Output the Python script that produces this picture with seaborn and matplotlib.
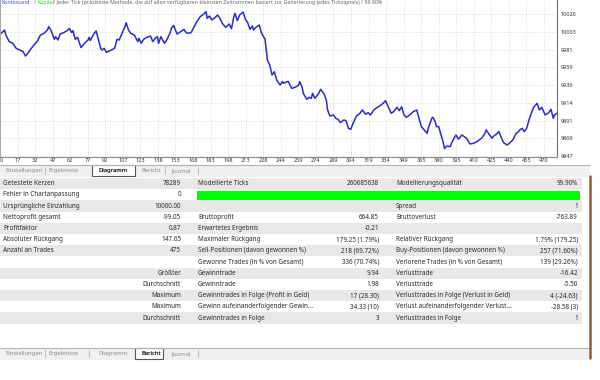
import numpy as np
import pandas as pd
import matplotlib
matplotlib.use("Agg")
import matplotlib.pyplot as plt
import seaborn as sns
from matplotlib.patches import Rectangle

# Balance curve (trade number, account balance)
trade_no = [1, 4, 5, 8, 11, 14, 17, 20, 22, 24, 27, 30, 32, 35, 38, 41, 42, 44, 45, 47,
            48, 50, 52, 55, 58, 60, 62, 63, 65, 67, 70, 73, 76, 77, 78, 81, 83, 84, 87, 88,
            90, 92, 96, 99, 101, 103, 106, 108, 109, 111, 113, 116, 119, 120, 122, 124, 127, 130, 132, 134,
            136, 137, 139, 142, 144, 147, 148, 150, 153, 156, 159, 160, 162, 165, 167, 170, 173, 176, 178, 179,
            181, 183, 186, 188, 190, 192, 195, 198, 200, 202, 203, 205, 207, 210, 212, 214, 216, 218, 219, 221,
            224, 226, 229, 230, 231, 233, 235, 237, 239, 242,
            244, 245, 248, 249, 252, 255, 258, 259, 261, 262, 265, 267, 269, 270, 272, 275, 277, 280, 282, 283,
            285, 288, 290, 292, 294, 297, 299, 301, 303, 305, 308, 311, 313, 316, 318, 320, 323, 326, 328, 331,
            333, 336, 338, 340, 343, 345, 347, 349, 351, 354, 357, 360, 362, 364, 366, 369, 370, 373, 374, 376,
            377, 379, 381, 383, 384, 386, 389, 390, 393, 394, 396, 399, 401, 403, 406, 409, 412, 414, 416, 419,
            420, 423, 425, 426, 429, 431, 433, 435, 438, 440, 443, 446, 448, 449, 451, 453, 455, 457, 459, 461,
            464, 466, 468, 471, 474, 476, 478, 479, 481]
balance = [10002.2, 10006.4, 10000.1, 9991.7, 9989.6, 9983.2, 9981.1, 9979.0, 9973.5, 9976.9,
           9983.2, 9988.7, 9991.7, 10000.1, 10002.2, 10006.4, 10010.7, 10006.4, 10002.2, 9994.6,
           9998.0, 9993.8, 10001.4, 10003.1, 10005.6, 10008.5, 10003.1, 10005.6, 9994.6, 9997.2,
           9984.1, 9989.6, 9993.8, 9997.2, 9993.0, 10001.4, 10005.2, 10000.1, 9983.2, 9981.1,
           9983.2, 9978.2, 9981.1, 9983.2, 9994.6, 9993.8, 10004.3, 10010.7, 10015.7, 10006.4,
           10002.2, 10000.1, 9991.7, 9995.9, 9989.6, 9994.6, 9997.2, 9998.8, 9991.7, 9995.9,
           9998.0, 9989.6, 9998.0, 9989.6, 9993.8, 10003.1, 10008.5, 10012.3, 10001.4, 10004.3,
           10007.3, 10004.3, 10002.2, 10003.1, 10008.5, 10017.0, 10023.3, 10026.7, 10029.6, 10021.2,
           10024.1, 10019.1, 10022.5, 10025.4, 10021.2, 10014.9, 10009.8, 10014.0, 10008.1, 10023.3,
           10027.5, 10018.3, 10025.4, 10029.2, 10020.0, 10015.7, 10007.3, 10011.5, 10006.4, 10009.8,
           10012.8, 10002.2, 9994.6, 9981.1, 9968.5, 9962.1, 9949.5, 9953.7, 9943.2, 9936.8,
           9941.1, 9939.0, 9941.1, 9941.1, 9932.6, 9933.9, 9936.8, 9941.1, 9933.9, 9926.3,
           9918.7, 9921.2, 9920.0, 9926.3, 9920.0, 9925.5, 9931.4, 9925.5, 9917.0, 9905.2,
           9897.6, 9898.9, 9894.7, 9893.4, 9889.2, 9892.5, 9891.7, 9882.0, 9880.7, 9888.3,
           9897.6, 9901.0, 9905.2, 9899.7, 9901.8, 9898.9, 9905.2, 9908.6, 9910.3, 9913.6,
           9917.0, 9907.3, 9901.0, 9903.1, 9908.6, 9904.4, 9909.4, 9898.9, 9895.9, 9898.9,
           9903.1, 9905.2, 9894.7, 9884.1, 9880.7, 9875.7, 9882.0, 9894.7, 9895.9, 9890.4,
           9884.1, 9884.1, 9873.6, 9863.9, 9856.3, 9859.7, 9858.8, 9863.0, 9871.5, 9873.6,
           9868.1, 9873.6, 9871.5, 9869.4, 9862.2, 9863.0, 9865.1, 9867.2, 9869.4, 9875.7,
           9879.9, 9873.6, 9869.4, 9871.5, 9874.8, 9877.8, 9870.6, 9863.9, 9860.9, 9863.0,
           9867.2, 9875.7, 9877.8, 9879.9, 9882.0, 9877.8, 9882.0, 9892.5, 9901.0, 9908.6,
           9913.6, 9905.2, 9908.6, 9898.9, 9901.8, 9906.1, 9894.7, 9898.9, 9901.0]

x_labels = ["0", "17", "32", "47", "62", "77", "92", "107", "123", "138", "153", "168", "183",
            "198", "213", "228", "244", "259", "274", "289", "304", "319", "334", "349", "365",
            "380", "395", "410", "425", "440", "455", "470"]
y_labels = ["9847", "9869", "9891", "9914", "9936", "9959", "9981", "10003", "10026"]

title_parts = ["Kontostand", "/", "Kapital",
               "/ Jeder Tick (präziseste Methode, die auf allen verfügbaren kleinsten Zeitrammen "
               "basiert zur Generierung jedes Ticksignals) / 99.90%"]

col1_labels = ["Getestete Kerzen", "Fehler in Chartanpassung", "Ursprüngliche Einzahlung",
               "Nettoprofit gesamt", "Profitfaktor", "Absoluter Rückgang", "Anzahl an Trades",
               "", "", "", "", "", ""]
col1_values = ["78289", "0", "10000.00", "-99.05", "0.87", "147.65", "475",
               "", "Größter", "Durchschnitt", "Maximum", "Maximum", "Durchschnitt"]
col2_labels = ["Modellierte Ticks", "", "", "Bruttoprofit", "Erwartetes Ergebnis",
               "Maximaler Rückgang", "Sell-Positionen (davon gewonnen %)",
               "Gewonne Trades (in % von Gesamt)", "Gewinntrade", "Gewinntrade",
               "Gewinntrades in Folge (Profit in Geld)", "Gewinn aufeinanderfolgender Gewin...",
               "Gewinntrades in Folge"]
col2_values = ["260685638", "", "", "664.85", "-0.21", "179.25 (1.79%)", "218 (69.72%)",
               "336 (70.74%)", "9.94", "1.98", "17 (28.30)", "34.33 (10)", "3"]
col3_labels = ["Modellierungsqualität", "", "Spread", "Bruttoverlust", "", "Relativer Rückgang",
               "Buy-Positionen (davon gewonnen %)", "Verlorene Trades (in % von Gesamt)",
               "Verlusttrade", "Verlusttrade", "Verlusttrades in Folge (Verlust in Geld)",
               "Verlust aufeinanderfolgender Verlust...", "Verlusttrades in Folge"]
col3_values = ["99.90%", "", "1", "-763.89", "", "1.79% (179.25)", "257 (71.60%)",
               "139 (29.26%)", "-16.42", "-5.50", "4 (-24.63)", "-28.58 (3)", "1"]

tab_names = ["Einstellungen", "Ergebnisse", "Diagramm", "Bericht", "Journal"]

sns.set_style("white")
plt.rcParams['font.family'] = ['Noto Sans', 'DejaVu Sans']

fig = plt.figure(figsize=(6, 3.8), dpi=100)

# background layer in pixel coordinates for the tester panel
bg = fig.add_axes([0, 0, 1, 1])
bg.set_xlim(0, 600)
bg.set_ylim(380, 0)
bg.axis('off')

# balance chart
ax = fig.add_axes([0, 1 - 157 / 380, 557 / 600, 157 / 380])
ax.patch.set_alpha(0)
df = pd.DataFrame({'trade': trade_no, 'balance': balance})
sns.lineplot(data=df, x='trade', y='balance', ax=ax, color='#2b2bcc', linewidth=1.1)
ax.set_xlim(0.8, 481.2)
ax.set_ylim(9845.7, 10044.4)
ax.set_xticks(np.arange(len(x_labels)) * 15.16)
ax.set_xticklabels(x_labels)
ax.get_xticklabels()[0].set_horizontalalignment('left')
ax.set_yticks(9847.05 + 22.4 * np.arange(len(y_labels)))
ax.set_yticklabels(y_labels)
ax.yaxis.tick_right()
ax.tick_params(axis='x', labelsize=4, length=0, colors='#333333', pad=1.0)
ax.tick_params(axis='y', labelsize=4, length=0, colors='#333333', pad=2.5)
ax.grid(True, color='#d2d2d2', linewidth=0.5, linestyle=(0, (1.5, 2)))
ax.set_xlabel('')
ax.set_ylabel('')
ax.spines['top'].set_visible(False)
ax.spines['left'].set_color('#a8a8a8')
ax.spines['right'].set_color('#707070')
ax.spines['bottom'].set_color('#909090')
for s in ['left', 'right', 'bottom']:
    ax.spines[s].set_linewidth(0.8)

# chart header line
title_x = [2, 34, 37.5, 53]
title_colors = ['#4b4bd8', '#777777', '#3cc83c', '#666666']
for txt, x, c in zip(title_parts, title_x, title_colors):
    bg.text(x, 2.8, txt, ha='left', va='center', fontsize=3.8, color=c)


def tab_strip(y0, selected, box):
    bg.add_patch(Rectangle((0, y0), 590, 12, facecolor='#f0f0f0', lw=0))
    bg.plot([0, 590], [y0, y0], color='#b4b4b4', lw=0.8)
    text_x = [5, 48, 98, 141, 171]
    sep_x = [45, 89, 134, 165, 198]
    for name, x in zip(tab_names, text_x):
        col = '#222222' if name == selected else '#8a8a8a'
        bg.text(x, y0 + 6.3, name, ha='left', va='center', fontsize=4.2, color=col)
    for x in sep_x:
        if abs(x - box[0]) > 3 and abs(x - box[1]) > 3:
            bg.plot([x, x], [y0 + 2.5, y0 + 9.5], color='#b0b0b0', lw=0.6)
    bg.add_patch(Rectangle((box[0], y0 + 0.4), box[1] - box[0], 11.4,
                           facecolor='white', edgecolor='#555555', lw=0.8, zorder=1))
    bg.text(text_x[tab_names.index(selected)], y0 + 6.3, selected, ha='left',
            va='center', fontsize=4.2, color='#222222', zorder=2)


tab_strip(164.5, "Diagramm", (92, 135))

# report table
row_h = 11.2
top0 = 178
fs = 4.55
for i in range(len(col1_labels)):
    top = top0 + row_h * i
    if i % 2 == 0:
        bg.add_patch(Rectangle((0, top), 582, row_h, facecolor='#e8e8e8', lw=0))
    yc = top + row_h / 2
    bg.text(3, yc, col1_labels[i], ha='left', va='center', fontsize=fs, color='#2a2a2a')
    bg.text(181, yc, col1_values[i], ha='right', va='center', fontsize=fs, color='#2a2a2a')
    bg.text(198, yc, col2_labels[i], ha='left', va='center', fontsize=fs, color='#2a2a2a')
    bg.text(379, yc, col2_values[i], ha='right', va='center', fontsize=fs, color='#2a2a2a')
    bg.text(396, yc, col3_labels[i], ha='left', va='center', fontsize=fs, color='#2a2a2a')
    bg.text(578, yc, col3_values[i], ha='right', va='center', fontsize=fs, color='#2a2a2a')

# modelling quality bar
bg.add_patch(Rectangle((197, top0 + row_h + 1.3), 383, 9.6, facecolor='#00ff00', lw=0))

tab_strip(347.5, "Bericht", (135, 163))

# window edge on the right
bg.plot([590, 590], [176, 358], color='#8b5e34', lw=1.8)

fig.savefig('out.png', dpi=100)
